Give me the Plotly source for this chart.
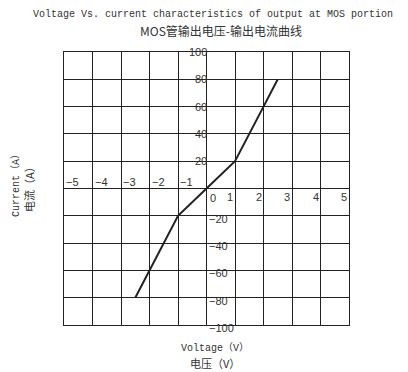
import plotly.graph_objects as go

# curve
volt = [-2.5, -2, -1, 0, 1, 2, 2.5]
curr = [-80, -60, -20, 0, 20, 60, 80]

# tick labels (drawn inside the grid like the original)
x_ticks = [-5, -4, -3, -2, -1, 0, 1, 2, 3, 4, 5]
y_ticks = [100, 80, 60, 40, 20, -20, -40, -60, -80, -100]

title_en = "Voltage Vs. current characteristics of output at MOS portion"
title_cn = "MOS管输出电压-输出电流曲线"

INK = "#222222"
TXT = "#333333"
W, H = 408, 372
L, R, T, B = 56, 67, 44, 55   # page body adds 8px offset

fig = go.Figure()
fig.add_trace(go.Scatter(x=volt, y=curr, mode="lines",
                         line=dict(color=INK, width=2), showlegend=False, hoverinfo="skip"))

tick_font = dict(family="Liberation Sans", size=11, color=TXT)
for v in x_ticks:
    lab = str(v).replace("-", "\u2212")
    if v < 0:
        pos = dict(xanchor="left", yanchor="bottom", xshift=1, yshift=0)
    elif v == 0:
        pos = dict(xanchor="left", yanchor="top", xshift=2, yshift=-2)
    else:
        pos = dict(xanchor="right", yanchor="top", xshift=-1, yshift=-1)
    fig.add_annotation(x=v, y=0, text=lab, showarrow=False, borderpad=0, font=tick_font, **pos)
for v in y_ticks:
    lab = str(v).replace("-", "\u2212")
    if v > 0:
        pos = dict(xanchor="right", yanchor="middle", xshift=1, yshift=0)
    else:
        pos = dict(xanchor="left", yanchor="middle", xshift=1, yshift=-3)
    fig.add_annotation(x=0, y=v, text=lab, showarrow=False, borderpad=0, font=tick_font, **pos)


# paper coords from screen pixels (screen = figure + 8px)
def px(xs):
    return (xs - 8 - L) / (W - L - R)


def py(ys):
    return (H - B - (ys - 8)) / (H - T - B)


def lab(text, x, y, size, family="Liberation Mono", angle=0):
    fig.add_annotation(text=text, x=px(x), y=py(y), xref="paper", yref="paper", showarrow=False,
                       xanchor="center", yanchor="middle", textangle=angle, borderpad=0,
                       font=dict(family=family, size=size, color=TXT))


lab(title_en, 213, 14, 10)
lab(title_cn, 221, 30, 12, family="Noto Sans CJK SC")
lab("Current（A）", 16, 183, 10, family="Liberation Mono, Noto Sans CJK SC", angle=-90)
lab("电流（A）", 29, 187, 11, family="Noto Sans CJK SC", angle=-90)
lab("Voltage（V）", 215, 348, 10, family="Liberation Mono, Noto Sans CJK SC")
lab("电压（V）", 215, 363, 11, family="Noto Sans CJK SC")

axis = dict(showgrid=True, gridcolor=INK, gridwidth=1, zeroline=True, zerolinecolor=INK,
            zerolinewidth=1, showline=True, linecolor=INK, linewidth=1, mirror=True,
            showticklabels=False, ticks="", fixedrange=True)
fig.update_xaxes(range=[-5, 5], dtick=1, tick0=0, **axis)
fig.update_yaxes(range=[-100, 100], dtick=20, tick0=0, **axis)

fig.update_layout(width=W, height=H, margin=dict(l=L, r=R, t=T, b=B),
                  plot_bgcolor="white", paper_bgcolor="white")

fig.write_html("out.html")
